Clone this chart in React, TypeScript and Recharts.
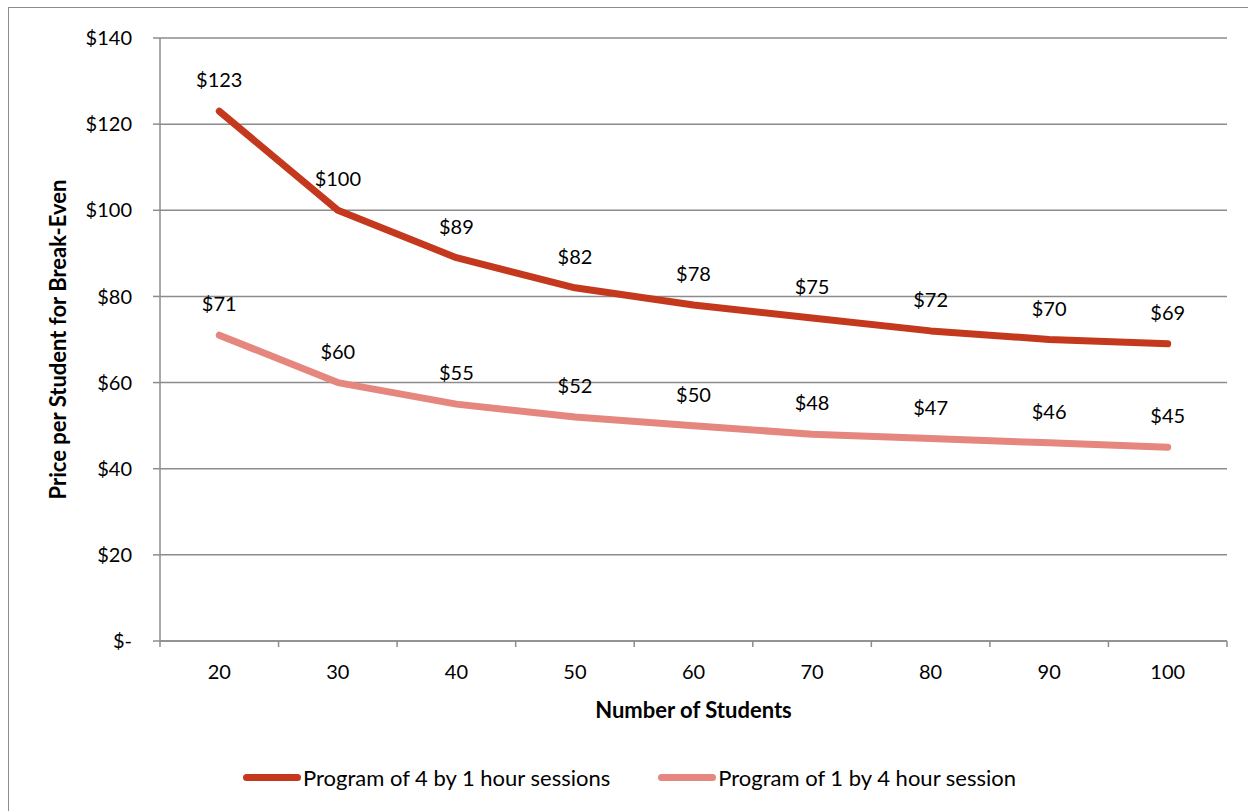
import {
  LineChart,
  Line,
  XAxis,
  YAxis,
  CartesianGrid,
  Legend,
  LabelList
} from "recharts";

const students = [20, 30, 40, 50, 60, 70, 80, 90, 100];
const fourByOneHour = [123, 100, 89, 82, 78, 75, 72, 70, 69];
const oneByFourHour = [71, 60, 55, 52, 50, 48, 47, 46, 45];
const priceTicks = [0, 20, 40, 60, 80, 100, 120, 140];
const bandEdges = [15, 25, 35, 45, 55, 65, 75, 85, 95, 105];

const seriesNames = [
  "Program of 4 by 1 hour sessions",
  "Program of 1 by 4 hour session"
];
const seriesColors = ["#C4391D", "#E5877F"];

const gray = "#8c8c8c";

const money = (v: number) => (v === 0 ? "$-" : `$${v}`);

function LegendRow() {
  return (
    <div style={{ display: "flex", alignItems: "center", paddingLeft: 243 }}>
      {seriesNames.map((name, i) => (
        <div
          key={name}
          style={{ display: "flex", alignItems: "center", marginRight: 48 }}
        >
          <span
            style={{
              display: "inline-block",
              width: 58,
              height: 7,
              borderRadius: 4,
              background: seriesColors[i],
              marginRight: 2
            }}
          />
          <span style={{ fontSize: 22, color: "#000" }}>{name}</span>
        </div>
      ))}
    </div>
  );
}

export default function App() {
  const rows = students.map((s, i) => ({
    students: s,
    fourByOne: fourByOneHour[i],
    oneByFour: oneByFourHour[i]
  }));

  return (
    <div
      style={{
        position: "relative",
        width: 1248,
        height: 811,
        overflow: "hidden",
        background: "#fff",
        fontFamily: "Lato, 'Open Sans', sans-serif"
      }}
    >
      <style>{"body{margin:0;overflow:hidden}"}</style>
      <div
        style={{
          position: "absolute",
          left: 8,
          top: 7,
          width: 1300,
          height: 900,
          border: `1.5px solid ${gray}`
        }}
      />
      <div style={{ position: "absolute", left: 0, top: 0 }}>
        <LineChart
          width={1248}
          height={811}
          data={rows}
          margin={{ top: 38, right: 21, left: 20, bottom: 89 }}
        >
          <CartesianGrid
            xAxisId="b"
            vertical={false}
            stroke={gray}
            strokeWidth={1.5}
          />
          <XAxis
            xAxisId="b"
            type="number"
            dataKey="students"
            domain={[15, 105]}
            ticks={students}
            tickLine={false}
            axisLine={false}
            tickSize={6}
            tickMargin={17}
            height={80}
            tick={{ fontSize: 20, fill: "#000" }}
            label={{
              value: "Number of Students",
              position: "insideBottom",
              offset: 4,
              fontSize: 22,
              fontWeight: "bold",
              fill: "#000"
            }}
          />
          <XAxis
            xAxisId="a"
            type="number"
            dataKey="students"
            domain={[15, 105]}
            ticks={bandEdges}
            tickFormatter={() => ""}
            tickLine={{ stroke: gray, strokeWidth: 1.5 }}
            axisLine={{ stroke: gray, strokeWidth: 1.5 }}
            tickSize={6}
            height={1}
          />
          <YAxis
            width={140}
            domain={[0, 140]}
            ticks={priceTicks}
            tickFormatter={money}
            tickSize={7}
            tickMargin={21}
            axisLine={{ stroke: gray, strokeWidth: 1.5 }}
            tickLine={{ stroke: gray, strokeWidth: 1.5 }}
            tick={{ fontSize: 20, fill: "#000" }}
            label={{
              value: "Price per Student for Break-Even",
              angle: -90,
              position: "insideLeft",
              offset: 38,
              fontSize: 22,
              fontWeight: "bold",
              fill: "#000",
              style: { textAnchor: "middle" }
            }}
          />
          <Legend
            verticalAlign="middle"
            align="center"
            layout="horizontal"
            content={<LegendRow />}
            wrapperStyle={{ left: 0, top: 764, width: 1248 }}
          />
          <Line
            xAxisId="b"
            type="linear"
            dataKey="fourByOne"
            name={seriesNames[0]}
            stroke={seriesColors[0]}
            strokeWidth={7}
            strokeLinecap="round"
            strokeLinejoin="round"
            dot={false}
            isAnimationActive={false}
          >
            <LabelList
              dataKey="fourByOne"
              position="top"
              offset={24}
              formatter={(v: any) => money(Number(v))}
              style={{ fontSize: 20, fill: "#000" }}
            />
          </Line>
          <Line
            xAxisId="b"
            type="linear"
            dataKey="oneByFour"
            name={seriesNames[1]}
            stroke={seriesColors[1]}
            strokeWidth={7}
            strokeLinecap="round"
            strokeLinejoin="round"
            dot={false}
            isAnimationActive={false}
          >
            <LabelList
              dataKey="oneByFour"
              position="top"
              offset={24}
              formatter={(v: any) => money(Number(v))}
              style={{ fontSize: 20, fill: "#000" }}
            />
          </Line>
        </LineChart>
      </div>
    </div>
  );
}
